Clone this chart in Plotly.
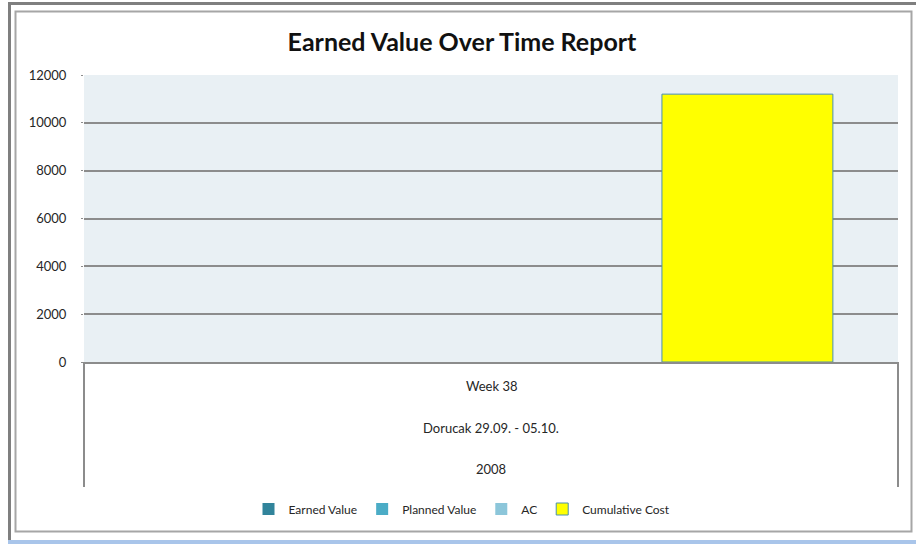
import plotly.graph_objects as go

# ---- data ----
categories = ["Week 38"]
period_labels = ["Week 38", "Dorucak 29.09. - 05.10.", "2008"]
series_names = ["Earned Value", "Planned Value", "AC", "Cumulative Cost"]
earned_value = [0]
planned_value = [0]
actual_cost = [0]
cumulative_cost = [11200]
y_ticks = [0, 2000, 4000, 6000, 8000, 10000, 12000]

series_values = [earned_value, planned_value, actual_cost, cumulative_cost]
series_colors = ["#31849B", "#4BACC6", "#8CC6DA", "#FFFF00"]
series_lines = ["#31849B", "#4BACC6", "#6FA9C0", "#4A8FB0"]
series_line_w = [0, 0, 0, 1]

W, H = 916, 544
L, R, T, B = 84, 18, 75, 182
PW, PH = W - L - R, H - T - B


def px(x):
    return (x - L) / PW


def py(y):
    return (H - B - y) / PH


FONT = "Lato, 'Open Sans', sans-serif"

fig = go.Figure()
for name, vals, col, lc, lw in zip(series_names, series_values, series_colors, series_lines, series_line_w):
    fig.add_trace(go.Bar(
        x=categories, y=vals, name=name,
        marker=dict(color=col, line=dict(color=lc, width=lw)),
    ))

shapes = []
grey = "#7F7F7F"
# outer screenshot frame
shapes.append(dict(type="rect", xref="paper", yref="paper", x0=px(8), x1=px(11), y0=py(540), y1=py(2),
                   fillcolor=grey, line=dict(width=0), layer="above"))
shapes.append(dict(type="rect", xref="paper", yref="paper", x0=px(8), x1=px(916), y0=py(5), y1=py(2),
                   fillcolor=grey, line=dict(width=0), layer="above"))
shapes.append(dict(type="rect", xref="paper", yref="paper", x0=px(8), x1=px(916), y0=py(544), y1=py(540),
                   fillcolor="#A9C5EA", line=dict(width=0), layer="above"))
# inner chart frame
shapes.append(dict(type="rect", xref="paper", yref="paper", x0=px(15.5), x1=px(911.5), y0=py(531.5), y1=py(11.5),
                   fillcolor="rgba(0,0,0,0)", line=dict(color="#A6A6A6", width=2), layer="above"))
# category box under plot
for xx in (84, 898):
    shapes.append(dict(type="line", xref="paper", yref="paper", x0=px(xx), x1=px(xx), y0=py(362), y1=py(487),
                       line=dict(color="#8C8C8C", width=2), layer="above"))

annotations = []
label_y = [386, 428, 469]
for lab, yy in zip(period_labels, label_y):
    annotations.append(dict(x=categories[0], xref="x", y=py(yy), yref="paper", text=lab, showarrow=False,
                            font=dict(family=FONT, size=13, color="#262626"), xanchor="center", yanchor="middle"))

fig.update_layout(
    width=W, height=H,
    margin=dict(l=L, r=R, t=T, b=B),
    paper_bgcolor="white",
    plot_bgcolor="#E9F0F4",
    barmode="group",
    bargap=0.16,
    bargroupgap=0,
    title=dict(text="<b>Earned Value Over Time Report</b>", xref="container", x=462 / W, xanchor="center",
               yref="container", y=1 - 42 / H, yanchor="middle",
               font=dict(family=FONT, size=25, color="#111111")),
    font=dict(family=FONT, size=12, color="#262626"),
    showlegend=True,
    legend=dict(orientation="h", x=px(462), xanchor="center", y=py(509), yanchor="middle",
                font=dict(family=FONT, size=12, color="#262626"), itemwidth=30,
                bgcolor="rgba(0,0,0,0)", traceorder="normal"),
    shapes=shapes,
    annotations=annotations,
)
fig.update_xaxes(showticklabels=False, showgrid=False, zeroline=False, showline=True,
                 linecolor="#8C8C8C", linewidth=2, ticks="")
fig.update_yaxes(range=[0, 12000], tickvals=y_ticks, tickformat="d", showgrid=True, gridcolor="#8C8C8C",
                 gridwidth=1.5, zeroline=False, showline=False, ticks="outside", ticklen=2,
                 tickcolor="#8C8C8C", ticklabelstandoff=12,
                 tickfont=dict(family=FONT, size=13, color="#262626"))

fig.write_html("out.html", config={"displayModeBar": False},
               post_script="document.body.style.margin='0';document.body.style.overflow='hidden';")
